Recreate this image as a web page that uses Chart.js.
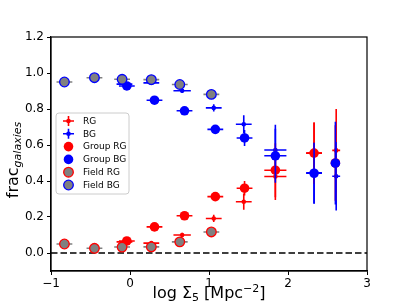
<!DOCTYPE html>
<html>
<head>
<meta charset="utf-8">
<script src="https://cdn.jsdelivr.net/npm/chart.js@4.4.1/dist/chart.umd.min.js"></script>
<style>
  html, body { margin: 0; padding: 0; background: #fff; }
  #wrap { width: 407px; height: 305px; }
</style>
</head>
<body>
<div id="wrap"><canvas id="chart" width="407" height="305"></canvas></div>
<script>
// tick labels
const xTicks = [-1, 0, 1, 2, 3];
const yTicks = [0.0, 0.2, 0.4, 0.6, 0.8, 1.0, 1.2];

// all galaxies (RG / BG)
const allX = [-0.07, 0.27, 0.66, 1.06, 1.44, 1.84, 2.33, 2.61];
const allXErr = [0.1, 0.1, 0.11, 0.1, 0.1, 0.14, 0.1, 0.05];
const allRG = [0.062, 0.055, 0.10, 0.192, 0.285, 0.425, 0.555, 0.57];
const allRGErr = [0.01, 0.01, 0.012, 0.02, 0.045, 0.13, 0.17, 0.23];
const allBG = [0.938, 0.945, 0.901, 0.806, 0.715, 0.572, 0.445, 0.426];
const allBGErr = [0.01, 0.01, 0.012, 0.02, 0.05, 0.14, 0.17, 0.19];

// group galaxies
const groupX = [-0.04, 0.31, 0.69, 1.08, 1.45, 1.84, 2.33, 2.60];
const groupXErr = [0.1, 0.1, 0.1, 0.1, 0.1, 0.14, 0.1, 0.05];
const groupRG = [0.067, 0.145, 0.207, 0.313, 0.36, 0.46, 0.555, 0.50];
const groupRGErr = [0.012, 0.015, 0.015, 0.02, 0.04, 0.15, 0.17, 0.21];
const groupBG = [0.928, 0.849, 0.79, 0.687, 0.639, 0.54, 0.443, 0.499];
const groupBGErr = [0.012, 0.015, 0.015, 0.02, 0.045, 0.15, 0.17, 0.23];

// field galaxies
const fieldX = [-0.83, -0.45, -0.10, 0.27, 0.63, 1.03];
const fieldXErr = [0.1, 0.1, 0.1, 0.1, 0.1, 0.1];
const fieldRG = [0.05, 0.026, 0.033, 0.034, 0.062, 0.117];
const fieldBG = [0.95, 0.974, 0.965, 0.963, 0.936, 0.881];
const fieldErr = [0.008, 0.006, 0.005, 0.005, 0.007, 0.01];

const FONT = "'DejaVu Sans', sans-serif";
const pts = (xs, ys) => xs.map((x, i) => ({ x: x, y: ys[i] }));

// matplotlib-style error bars, drawn under each dataset's markers
const errorBars = {
  id: 'errorBars',
  beforeDatasetDraw(chart, args) {
    const ds = chart.data.datasets[args.index];
    if (!ds.yErr) return;
    const xs = chart.scales.x, ys = chart.scales.y, ctx = chart.ctx;
    ctx.save();
    ctx.strokeStyle = ds.errColor;
    ctx.lineWidth = ds.errWidth;
    ds.data.forEach((p, i) => {
      const px = xs.getPixelForValue(p.x), py = ys.getPixelForValue(p.y);
      ctx.beginPath();
      ctx.moveTo(xs.getPixelForValue(p.x - ds.xErr[i]), py);
      ctx.lineTo(xs.getPixelForValue(p.x + ds.xErr[i]), py);
      ctx.moveTo(px, ys.getPixelForValue(p.y - ds.yErr[i]));
      ctx.lineTo(px, ys.getPixelForValue(p.y + ds.yErr[i]));
      ctx.stroke();
    });
    ctx.restore();
  }
};

// zero line, frame, axis titles and legend
const decor = {
  id: 'decor',
  beforeDatasetsDraw(chart) {
    const ctx = chart.ctx, a = chart.chartArea, y0 = chart.scales.y.getPixelForValue(0);
    ctx.save();
    ctx.strokeStyle = '#000';
    ctx.lineWidth = 1.6;
    ctx.setLineDash([6.5, 3]);
    ctx.beginPath();
    ctx.moveTo(a.left, y0);
    ctx.lineTo(a.right, y0);
    ctx.stroke();
    ctx.restore();
  },
  afterDraw(chart) {
    const ctx = chart.ctx, a = chart.chartArea;
    ctx.save();
    ctx.strokeStyle = '#000';
    ctx.lineWidth = 1.2;
    ctx.strokeRect(a.left, a.top, a.right - a.left, a.bottom - a.top);

    // x title: log Σ5 [Mpc^-2]
    const big = '16px ' + FONT, small = '11px ' + FONT;
    const parts = [
      { t: 'log Σ', f: big, dy: 0 },
      { t: '5', f: small, dy: 3 },
      { t: ' [Mpc', f: big, dy: 0 },
      { t: '\u22122', f: small, dy: -6 },
      { t: ']', f: big, dy: 0 }
    ];
    let w = 0;
    parts.forEach(p => { ctx.font = p.f; p.w = ctx.measureText(p.t).width; w += p.w; });
    let x = (a.left + a.right) / 2 - w / 2;
    ctx.fillStyle = '#000';
    ctx.textBaseline = 'alphabetic';
    parts.forEach(p => { ctx.font = p.f; ctx.fillText(p.t, x, 298 + p.dy); x += p.w; });

    // y title: frac_galaxies
    ctx.save();
    ctx.translate(18, 160);
    ctx.rotate(-Math.PI / 2);
    ctx.font = big;
    const w1 = ctx.measureText('frac').width;
    ctx.font = 'italic 11px ' + FONT;
    const w2 = ctx.measureText('galaxies').width;
    let sx = -(w1 + w2) / 2;
    ctx.font = big;
    ctx.fillText('frac', sx, 0);
    ctx.font = 'italic 11px ' + FONT;
    ctx.fillText('galaxies', sx + w1, 3);
    ctx.restore();

    // legend
    const lx = 56, ly = 113, lw = 73, lh = 81;
    ctx.beginPath();
    ctx.roundRect(lx, ly, lw, lh, 3);
    ctx.fillStyle = 'rgba(255,255,255,0.8)';
    ctx.fill();
    ctx.strokeStyle = '#cccccc';
    ctx.lineWidth = 1;
    ctx.stroke();
    const legendOrder = [5, 4, 3, 2, 1, 0];
    ctx.font = '9px ' + FONT;
    ctx.textBaseline = 'middle';
    legendOrder.forEach((di, k) => {
      const ds = chart.data.datasets[di];
      const cy = ly + 8 + k * 12.8, cx = 68.5;
      if (ds.errColor && ds.pointRadius < 3) {
        ctx.strokeStyle = ds.errColor;
        ctx.lineWidth = 1.6;
        ctx.beginPath();
        ctx.moveTo(cx - 5.5, cy); ctx.lineTo(cx + 5.5, cy);
        ctx.moveTo(cx, cy - 5); ctx.lineTo(cx, cy + 5);
        ctx.stroke();
      }
      ctx.beginPath();
      ctx.arc(cx, cy, ds.pointRadius, 0, Math.PI * 2);
      ctx.fillStyle = ds.backgroundColor;
      ctx.fill();
      if (ds.borderWidth) {
        ctx.strokeStyle = ds.borderColor;
        ctx.lineWidth = ds.borderWidth;
        ctx.stroke();
      }
      ctx.fillStyle = '#000';
      ctx.fillText(ds.label, 83, cy + 0.5);
    });
    ctx.restore();
  }
};

new Chart(document.getElementById('chart'), {
  type: 'scatter',
  data: {
    datasets: [
      { label: 'Field BG', data: pts(fieldX, fieldBG), xErr: fieldXErr, yErr: fieldErr,
        errColor: 'grey', errWidth: 1.6, backgroundColor: 'grey', borderColor: 'blue',
        borderWidth: 1.3, pointRadius: 4.8 },
      { label: 'Field RG', data: pts(fieldX, fieldRG), xErr: fieldXErr, yErr: fieldErr,
        errColor: 'grey', errWidth: 1.6, backgroundColor: 'grey', borderColor: 'red',
        borderWidth: 1.3, pointRadius: 4.8 },
      { label: 'Group BG', data: pts(groupX, groupBG), xErr: groupXErr, yErr: groupBGErr,
        errColor: 'blue', errWidth: 1.6, backgroundColor: 'blue', borderColor: 'blue',
        borderWidth: 0, pointRadius: 4.8 },
      { label: 'Group RG', data: pts(groupX, groupRG), xErr: groupXErr, yErr: groupRGErr,
        errColor: 'red', errWidth: 1.6, backgroundColor: 'red', borderColor: 'red',
        borderWidth: 0, pointRadius: 4.8 },
      { label: 'BG', data: pts(allX, allBG), xErr: allXErr, yErr: allBGErr,
        errColor: 'blue', errWidth: 1.6, backgroundColor: 'blue', borderColor: 'blue',
        borderWidth: 0, pointRadius: 2.3 },
      { label: 'RG', data: pts(allX, allRG), xErr: allXErr, yErr: allRGErr,
        errColor: 'red', errWidth: 1.6, backgroundColor: 'red', borderColor: 'red',
        borderWidth: 0, pointRadius: 2.3 }
    ]
  },
  options: {
    responsive: false,
    animation: false,
    devicePixelRatio: 1,
    layout: { padding: { top: 37, right: 40, left: 0, bottom: 0 } },
    plugins: { legend: { display: false }, tooltip: { enabled: false } },
    scales: {
      x: {
        type: 'linear', min: -1, max: 3,
        afterFit: s => { s.height = 34; },
        afterBuildTicks: s => { s.ticks = xTicks.map(v => ({ value: v })); },
        grid: { drawOnChartArea: false, drawTicks: true, tickLength: 4, color: '#000' },
        border: { display: true, color: '#000', width: 1.2 },
        ticks: {
          color: '#000', padding: 2, maxRotation: 0,
          font: { family: FONT, size: 12 },
          callback: v => (v < 0 ? '\u2212' + Math.abs(v) : String(v))
        }
      },
      y: {
        type: 'linear', min: -0.1, max: 1.2,
        afterFit: s => { s.width = 51; },
        afterBuildTicks: s => { s.ticks = yTicks.map(v => ({ value: v })); },
        grid: { drawOnChartArea: false, drawTicks: true, tickLength: 4, color: '#000' },
        border: { display: true, color: '#000', width: 1.2 },
        ticks: {
          color: '#000', padding: 3,
          font: { family: FONT, size: 12 },
          callback: v => v.toFixed(1)
        }
      }
    }
  },
  plugins: [errorBars, decor]
});
</script>
</body>
</html>
